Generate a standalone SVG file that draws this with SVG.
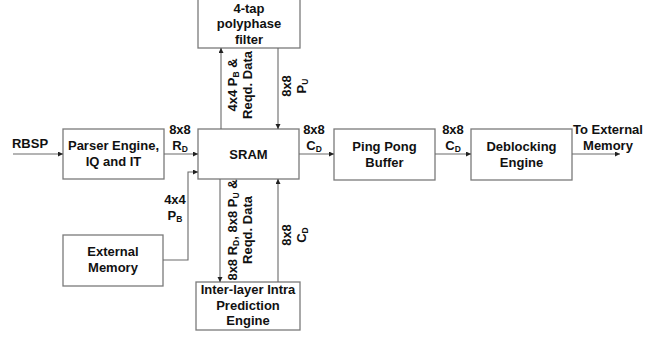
<svg xmlns="http://www.w3.org/2000/svg" width="655" height="337" viewBox="0 0 655 337">
<defs>
<marker id="ah" markerUnits="userSpaceOnUse" markerWidth="6" markerHeight="6" refX="5" refY="2.5" orient="auto">
<path d="M0,0 L5,2.5 L0,5 z" fill="#222"/>
</marker>
<style>
.box{fill:#fff;stroke:#7a7a7a;stroke-width:1.3}
.t{font-family:"Liberation Sans",Arial,sans-serif;font-weight:bold;font-size:13px;fill:#111;text-anchor:middle}
.s{font-size:8.5px}
.c{fill:none;stroke:#6a6a6a;stroke-width:1.1;marker-end:url(#ah)}
.p{fill:none;stroke:#6a6a6a;stroke-width:1.1}
</style>
</defs>
<rect width="655" height="337" fill="#fff"/>

<g id="parser">
<rect class="box" x="63" y="129" width="101" height="50"/>
<text class="t" x="113.5" y="150">Parser Engine,</text>
<text class="t" x="113.5" y="166">IQ and IT</text>
</g>
<g id="sram">
<rect class="box" x="198" y="129" width="101" height="50"/>
<text class="t" x="248.5" y="158.5">SRAM</text>
</g>
<g id="pingpong">
<rect class="box" x="334" y="129" width="101" height="51"/>
<text class="t" x="384.5" y="151">Ping Pong</text>
<text class="t" x="384.5" y="166.5">Buffer</text>
</g>
<g id="deblocking">
<rect class="box" x="471" y="129" width="101" height="51"/>
<text class="t" x="521.5" y="151">Deblocking</text>
<text class="t" x="521.5" y="166.5">Engine</text>
</g>
<g id="polyphase">
<rect class="box" x="198" y="-2" width="102" height="50"/>
<text class="t" x="249" y="12.5">4-tap</text>
<text class="t" x="249" y="28">polyphase</text>
<text class="t" x="249" y="43.5">filter</text>
</g>
<g id="interlayer">
<rect class="box" x="196" y="282" width="104" height="48"/>
<text class="t" x="248" y="294">Inter-layer Intra</text>
<text class="t" x="248" y="309.5">Prediction</text>
<text class="t" x="248" y="325">Engine</text>
</g>
<g id="extmem">
<rect class="box" x="63" y="235" width="100" height="51"/>
<text class="t" x="113" y="256">External</text>
<text class="t" x="113" y="272">Memory</text>
</g>

<g id="connectors">
<path class="c" d="M13,154 H63"/>
<path class="c" d="M164,154 H198"/>
<path class="c" d="M299,154 H334"/>
<path class="c" d="M435,154 H471"/>
<path class="c" d="M572,154 H620"/>
<path class="c" d="M221,129 V48"/>
<path class="c" d="M278,48 V129"/>
<path class="c" d="M220,179 V282"/>
<path class="c" d="M278,282 V179"/>
<path class="c" d="M163,260 H188 V172 H198"/>
</g>

<g id="labels">
<text class="t" x="30" y="148">RBSP</text>
<text class="t" x="180" y="134">8x8</text>
<text class="t" x="180" y="149.5">R<tspan class="s" dy="2">D</tspan></text>
<text class="t" x="314" y="134">8x8</text>
<text class="t" x="314" y="149.5">C<tspan class="s" dy="2">D</tspan></text>
<text class="t" x="453" y="134">8x8</text>
<text class="t" x="453" y="149.5">C<tspan class="s" dy="2">D</tspan></text>
<text class="t" x="608" y="134">To External</text>
<text class="t" x="608" y="149.5">Memory</text>
<text class="t" x="175" y="204">4x4</text>
<text class="t" x="175" y="219.5">P<tspan class="s" dy="2">B</tspan></text>
<text class="t" transform="translate(236.5,85) rotate(-90)">4x4 P<tspan class="s" dy="2">B</tspan><tspan dy="-2"> &amp;</tspan></text>
<text class="t" transform="translate(252,85) rotate(-90)">Reqd. Data</text>
<text class="t" transform="translate(291,86) rotate(-90)">8x8</text>
<text class="t" transform="translate(306,86) rotate(-90)">P<tspan class="s" dy="2">U</tspan></text>
<text class="t" transform="translate(236.5,230) rotate(-90)">8x8 R<tspan class="s" dy="2">D</tspan><tspan dy="-2">, 8x8 P</tspan><tspan class="s" dy="2">U</tspan><tspan dy="-2"> &amp;</tspan></text>
<text class="t" transform="translate(252,230) rotate(-90)">Reqd. Data</text>
<text class="t" transform="translate(290.5,235) rotate(-90)">8x8</text>
<text class="t" transform="translate(306,235) rotate(-90)">C<tspan class="s" dy="2">D</tspan></text>
</g>
</svg>
